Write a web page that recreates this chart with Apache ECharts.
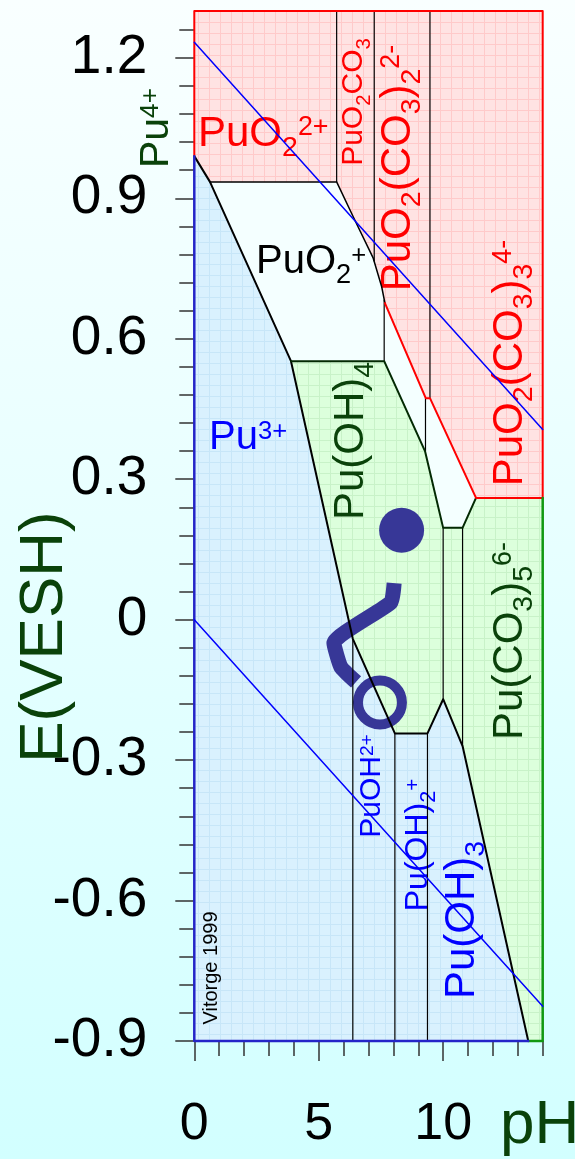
<!DOCTYPE html>
<html>
<head>
<meta charset="utf-8">
<script src="https://cdn.jsdelivr.net/npm/echarts@6/dist/echarts.min.js"></script>
<style>
  html, body { margin: 0; padding: 0; }
  body { background: linear-gradient(to bottom, #f9ffff 0%, #e6ffff 50%, #d2ffff 100%); }
  #chart { width: 575px; height: 1159px; }
</style>
</head>
<body>
<div id="chart"></div>
<script>
// ---- axes ----
const pHRange = [0, 14];
const eRange = [-0.9, 1.3];
const xTickLabels = [0, 5, 10];
const xMinorTicks = [1, 2, 3, 4, 5, 6, 7, 8, 9, 10, 11, 12, 13, 14];
const yTickLabels = [-0.9, -0.6, -0.3, 0, 0.3, 0.6, 0.9, 1.2];
const yMinorTicks = [-0.84, -0.78, -0.72, -0.66, -0.54, -0.48, -0.42, -0.36, -0.24, -0.18, -0.12, -0.06,
  0.06, 0.12, 0.18, 0.24, 0.36, 0.42, 0.48, 0.54, 0.66, 0.72, 0.78, 0.84, 0.96, 1.02, 1.08, 1.14, 1.26];

// ---- predominance domains (pH, E/V vs SHE) ----
const puVIArea = [[0, 1.3], [14, 1.3], [14, 0.26], [11.32, 0.26], [9.47, 0.473], [9.30, 0.473], [7.66, 0.676],
  [7.53, 0.711], [7.19, 0.772], [6.39, 0.860], [5.72, 0.935], [0.63, 0.935], [0, 0.99]];
const puVArea = [[0.63, 0.935], [5.72, 0.935], [6.39, 0.860], [7.19, 0.772], [7.53, 0.711], [7.66, 0.676],
  [9.30, 0.473], [9.47, 0.473], [11.32, 0.26], [10.78, 0.196], [10.0, 0.196], [9.27, 0.36], [7.63, 0.552], [3.885, 0.552]];
const puIVArea = [[3.885, 0.552], [7.63, 0.552], [9.27, 0.36], [10.0, 0.196], [10.78, 0.196], [11.32, 0.26],
  [14, 0.26], [14, -0.9], [13.42, -0.9], [10.78, -0.27], [10.0, -0.17], [9.37, -0.243], [8.06, -0.243], [6.37, -0.041]];
const puIIIArea = [[0, 0.99], [0.63, 0.935], [3.885, 0.552], [6.37, -0.041], [8.06, -0.243], [9.37, -0.243],
  [10.0, -0.17], [10.78, -0.27], [13.42, -0.9], [0, -0.9]];

// ---- boundaries ----
const puIIIEdge = [[0, 0.99], [0.63, 0.935], [3.885, 0.552], [6.37, -0.041], [8.06, -0.243], [9.37, -0.243],
  [10.0, -0.17], [10.78, -0.27], [13.42, -0.9]];
const puVTopEdge = [[0.63, 0.935], [5.72, 0.935], [6.39, 0.860], [7.19, 0.772], [7.53, 0.711], [7.66, 0.676]];
const puVIBottomEdge = [[7.66, 0.676], [9.30, 0.473], [9.47, 0.473], [11.32, 0.26], [14, 0.26]];
const puIVTopEdge = [[3.885, 0.552], [7.63, 0.552], [9.27, 0.36], [10.0, 0.196], [10.78, 0.196], [11.32, 0.26]];
// vertical separations: [pH, E top, E bottom]
const dividers = [[5.72, 1.3, 0.935], [7.23, 1.3, 0.765], [7.63, 0.683, 0.552], [9.47, 1.3, 0.473],
  [9.29, 0.473, 0.36], [10.0, 0.196, -0.17], [10.78, 0.196, -0.27], [6.37, -0.041, -0.9],
  [8.06, -0.243, -0.9], [9.37, -0.243, -0.9]];
const frameRed = [[0, 0.99], [0, 1.3], [14, 1.3], [14, 0.26]];
const frameGreen = [[14, 0.26], [14, -0.9], [13.42, -0.9]];
const frameBlue = [[13.42, -0.9], [0, -0.9], [0, 0.99]];

// ---- water stability limits ----
const waterUpper = [[0, 1.233], [14, 0.406]];
const waterLower = [[0, 0], [14, -0.826]];

// ---- sample marks ----
const filledDot = [[8.33, 0.191]];
const ringMark = [[7.46, -0.177]];
const hookPath = [[8.03, 0.078], [7.90, 0.037], [5.61, -0.050], [5.89, -0.101], [6.50, -0.133]];

const FONT = '"Liberation Sans", Arial, sans-serif';
const RED = '#ff0000', BLUE = '#0000ff', DKGREEN = '#0a420a', MARK = '#373797';

function gridFill(base, line) {
  const size = 11;
  const c = document.createElement('canvas');
  c.width = size; c.height = size;
  const g = c.getContext('2d');
  g.fillStyle = base; g.fillRect(0, 0, size, size);
  g.fillStyle = line; g.fillRect(0, 0, size, 1); g.fillRect(0, 0, 1, size);
  return { image: c, repeat: 'repeat' };
}

const areas = [
  { pts: puIIIArea, fill: gridFill('#d9f1fe', '#c7e6f8') },
  { pts: puIVArea, fill: gridFill('#dcffdc', '#c8f2c8') },
  { pts: puVArea, fill: '#f4ffff' },
  { pts: puVIArea, fill: gridFill('#ffe3e3', '#ffcaca') }
];

function edge(data, color, width, z) {
  return {
    type: 'line', data, symbol: 'none', clip: false, silent: true, z,
    lineStyle: { color, width, cap: 'round', join: 'round', opacity: 1 }
  };
}

function axisBase(kind) {
  const isX = kind === 'x';
  return {
    type: 'value',
    min: isX ? pHRange[0] : eRange[0],
    max: isX ? pHRange[1] : eRange[1],
    position: isX ? 'bottom' : 'left',
    axisLine: { show: false, onZero: false },
    splitLine: { show: false },
    axisLabel: { show: false },
    axisTick: { show: false }
  };
}
const tickStyle = { color: '#333', width: 1.5 };

const xAxes = [axisBase('x'), axisBase('x'), axisBase('x')];
xAxes[0].axisTick = { show: true, customValues: xTickLabels, length: 20, lineStyle: tickStyle };
xAxes[0].axisLabel = { show: true, customValues: xTickLabels, margin: 58, fontSize: 52, color: '#000', fontFamily: FONT };
xAxes[1].axisTick = { show: true, customValues: xMinorTicks, length: 15, lineStyle: tickStyle };
xAxes[2].axisTick = { show: true, inside: true, customValues: [5, 10], length: 18, lineStyle: tickStyle };

const yAxes = [axisBase('y'), axisBase('y'), axisBase('y')];
yAxes[0].axisTick = { show: true, customValues: yTickLabels, length: 19, lineStyle: tickStyle };
yAxes[0].axisLabel = {
  show: true, customValues: yTickLabels, margin: 47, fontSize: 55, color: '#000', fontFamily: FONT,
  formatter: v => String(Math.round(v * 10) / 10)
};
yAxes[1].axisTick = { show: true, customValues: yMinorTicks, length: 15, lineStyle: tickStyle };
yAxes[2].axisTick = { show: true, inside: true, customValues: yTickLabels, length: 19, lineStyle: tickStyle };

// ---- chemical labels (rich text: b = subscript, p = superscript) ----
function chemStyle(S, color) {
  const L = 1.3 * S;
  return {
    fill: color, fontSize: S, fontFamily: FONT, lineHeight: L,
    rich: {
      m: { fontSize: S, lineHeight: L, fontFamily: FONT, fill: color },
      b: { fontSize: 0.68 * S, lineHeight: L, fontFamily: FONT, fill: color, padding: [0.66 * S, 0, 0, 0] },
      p: { fontSize: 0.64 * S, lineHeight: L, fontFamily: FONT, fill: color, padding: [0, 0, 0.3 * S, 0] }
    }
  };
}
const labels = [
  { t: '{m|PuO}{b|2}{p|2+}', x: 198, y: 134, s: 42, c: RED, rot: false },
  { t: '{m|PuO}{b|2}{m|CO}{b|3}', x: 354, y: 102, s: 30, c: RED, rot: true },
  { t: '{m|PuO}{b|2}{m|(CO}{b|3}{m|)}{b|2}{p|2-}', x: 398, y: 168, s: 42, c: RED, rot: true },
  { t: '{m|PuO}{b|2}{m|(CO}{b|3}{m|)}{b|3}{p|4-}', x: 510, y: 363, s: 42, c: RED, rot: true },
  { t: '{m|PuO}{b|2}{p|+}', x: 256, y: 262, s: 40, c: '#000', rot: false },
  { t: '{m|Pu}{p|3+}', x: 209, y: 438, s: 40, c: BLUE, rot: false },
  { t: '{m|Pu}{p|4+}', x: 157, y: 128, s: 41, c: DKGREEN, rot: true },
  { t: '{m|Pu(OH)}{b|4}', x: 351, y: 441, s: 42, c: DKGREEN, rot: true },
  { t: '{m|Pu(CO}{b|3}{m|)}{b|5}{p|6-}', x: 510, y: 641, s: 42, c: DKGREEN, rot: true },
  { t: '{m|PuOH}{p|2+}', x: 372, y: 786, s: 30, c: BLUE, rot: true },
  { t: '{m|Pu(OH)}{b|2}{p|+}', x: 418, y: 845, s: 32, c: BLUE, rot: true },
  { t: '{m|Pu(OH)}{b|3}', x: 462, y: 920, s: 42, c: BLUE, rot: true },
  { t: '{m|Vitorge 1999}', x: 211, y: 968, s: 20, c: '#000', rot: true },
  { t: '{m|E(VESH)}', x: 45, y: 637, s: 62, c: DKGREEN, rot: true },
  { t: '{m|pH}', x: 500, y: 1126, s: 62, c: DKGREEN, rot: false }
];
const graphics = labels.map(l => ({
  type: 'text', x: l.x, y: l.y, rotation: l.rot ? Math.PI / 2 : 0, z: 30, silent: true,
  style: Object.assign(chemStyle(l.s, l.c), {
    text: l.t,
    align: l.rot ? 'center' : 'left', verticalAlign: 'middle',
    textAlign: l.rot ? 'center' : 'left', textVerticalAlign: 'middle'
  })
}));

const chart = echarts.init(document.getElementById('chart'), null, { renderer: 'canvas' });
chart.setOption({
  backgroundColor: 'transparent',
  animation: false,
  grid: { left: 194.3, right: 32.3, top: 11, bottom: 118, containLabel: false },
  xAxis: xAxes,
  yAxis: yAxes,
  graphic: { elements: graphics },
  series: [
    {
      type: 'custom', z: 1, silent: true,
      data: areas.map((a, i) => i),
      renderItem: (params, api) => ({
        type: 'polygon',
        shape: { points: areas[params.dataIndex].pts.map(p => api.coord(p)) },
        style: { fill: areas[params.dataIndex].fill }
      })
    },
    {
      type: 'line', data: hookPath, symbol: 'none', clip: false, silent: true, z: 10, smooth: 0.15,
      lineStyle: { color: MARK, width: 15, cap: 'butt', join: 'round', opacity: 1 }
    },
    {
      type: 'scatter', data: ringMark, symbol: 'circle', symbolSize: 44, silent: true, z: 10,
      itemStyle: { color: 'rgba(0,0,0,0)', borderColor: MARK, borderWidth: 10, opacity: 1 }
    },
    {
      type: 'scatter', data: filledDot, symbol: 'circle', symbolSize: 45, silent: true, z: 10,
      itemStyle: { color: MARK, opacity: 1 }
    },
    {
      type: 'custom', z: 40, silent: true,
      data: dividers,
      encode: { x: 0, y: [1, 2] },
      renderItem: (params, api) => {
        const a = api.coord([api.value(0), api.value(1)]);
        const b = api.coord([api.value(0), api.value(2)]);
        return { type: 'line', shape: { x1: a[0], y1: a[1], x2: b[0], y2: b[1] }, style: { stroke: '#000', lineWidth: 1.2 } };
      }
    },
    edge(puIIIEdge, '#000', 2, 41),
    edge(puVTopEdge, '#000', 1.5, 41),
    edge(puIVTopEdge, '#032a03', 2, 41),
    edge(puVIBottomEdge, RED, 2, 42),
    edge(frameRed, RED, 2, 42),
    edge(frameGreen, '#119911', 2.5, 42),
    edge(frameBlue, '#2424c8', 2.5, 42),
    edge(waterUpper, BLUE, 1.5, 45),
    edge(waterLower, BLUE, 1.5, 45)
  ]
});
</script>
</body>
</html>
